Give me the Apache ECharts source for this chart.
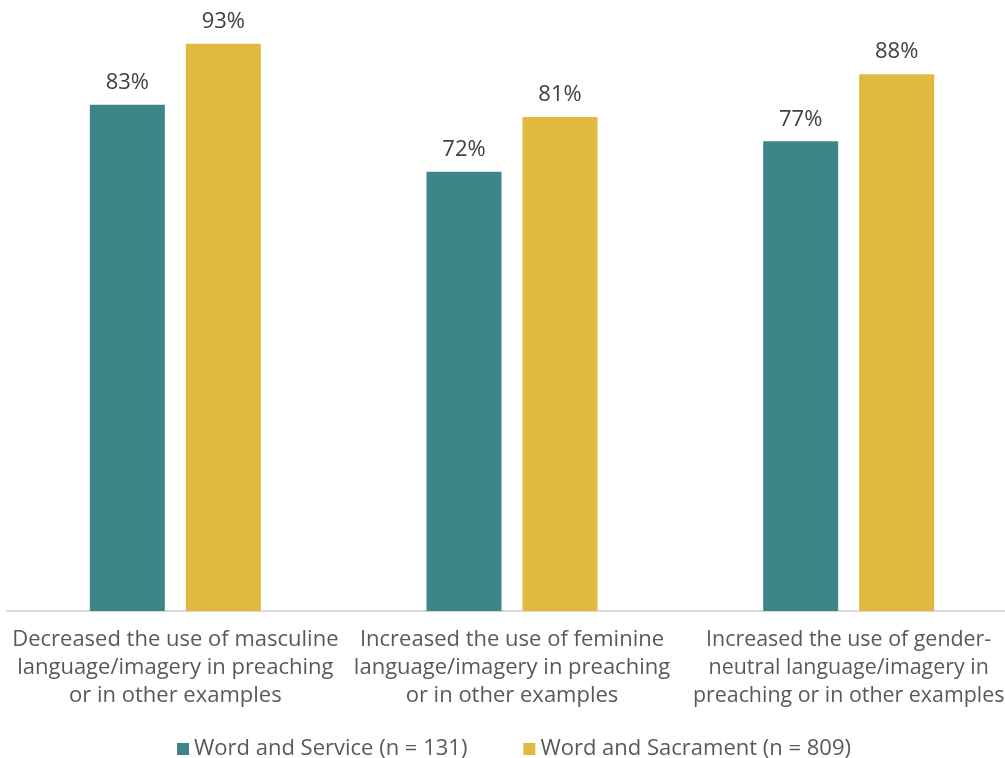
<!DOCTYPE html>
<html>
<head>
<meta charset="utf-8">
<script src="https://cdn.jsdelivr.net/npm/echarts@6/dist/echarts.min.js"></script>
<style>
  html, body { margin: 0; padding: 0; background: #fff; }
  #chart { width: 1005px; height: 758px; }
</style>
</head>
<body>
<div id="chart"></div>
<script>
// Categories (axis labels wrapped onto three lines)
const categories = [
  'Decreased the use of masculine\nlanguage/imagery in preaching\nor in other examples',
  'Increased the use of feminine\nlanguage/imagery in preaching\nor in other examples',
  'Increased the use of gender-\nneutral language/imagery in\npreaching or in other examples'
];
const seriesNames = ['Word and Service (n = 131)', 'Word and Sacrament (n = 809)'];
const wordAndService = [83, 72, 77];
const wordAndSacrament = [93, 81, 88];

const FONT = '"Open Sans", "Liberation Sans", Arial, sans-serif';
const chart = echarts.init(document.getElementById('chart'), null, { renderer: 'canvas' });

const labelStyle = {
  show: true,
  position: 'top',
  distance: 11,
  formatter: '{c}%',
  color: '#404040',
  fontSize: 22,
  fontFamily: FONT
};

// The last label sits against the right edge, so it is set a touch smaller.
const axisData = categories.map((c, i) =>
  i === categories.length - 1 ? { value: c, textStyle: { fontSize: 21.4 } } : c
);

chart.setOption({
  animation: false,
  // the plot runs slightly past the right edge of the canvas
  grid: {
    left: 7, top: 1, width: 1010, height: 610,
    containLabel: false,
    outerBoundsMode: 'none'
  },
  legend: {
    top: 733,
    left: 172,
    itemWidth: 12,
    itemHeight: 12,
    itemGap: 56,
    icon: 'rect',
    textStyle: { color: '#595959', fontSize: 22, fontFamily: FONT },
    data: seriesNames
  },
  xAxis: {
    type: 'category',
    data: axisData,
    axisLine: { lineStyle: { color: '#d9d9d9', width: 2 } },
    axisTick: { show: false },
    axisLabel: {
      interval: 0,
      margin: 15,
      color: '#595959',
      fontSize: 22,
      lineHeight: 28,
      fontFamily: FONT,
      align: 'center'
    }
  },
  yAxis: {
    type: 'value',
    min: 0,
    max: 100,
    show: false,
    splitLine: { show: false }
  },
  series: [
    {
      name: seriesNames[0],
      type: 'bar',
      data: wordAndService,
      barWidth: 75,
      barGap: '28%',
      itemStyle: { color: '#3d8587' },
      label: labelStyle
    },
    {
      name: seriesNames[1],
      type: 'bar',
      data: wordAndSacrament,
      barWidth: 75,
      itemStyle: { color: '#e1b940' },
      label: labelStyle
    }
  ]
});
</script>
</body>
</html>
